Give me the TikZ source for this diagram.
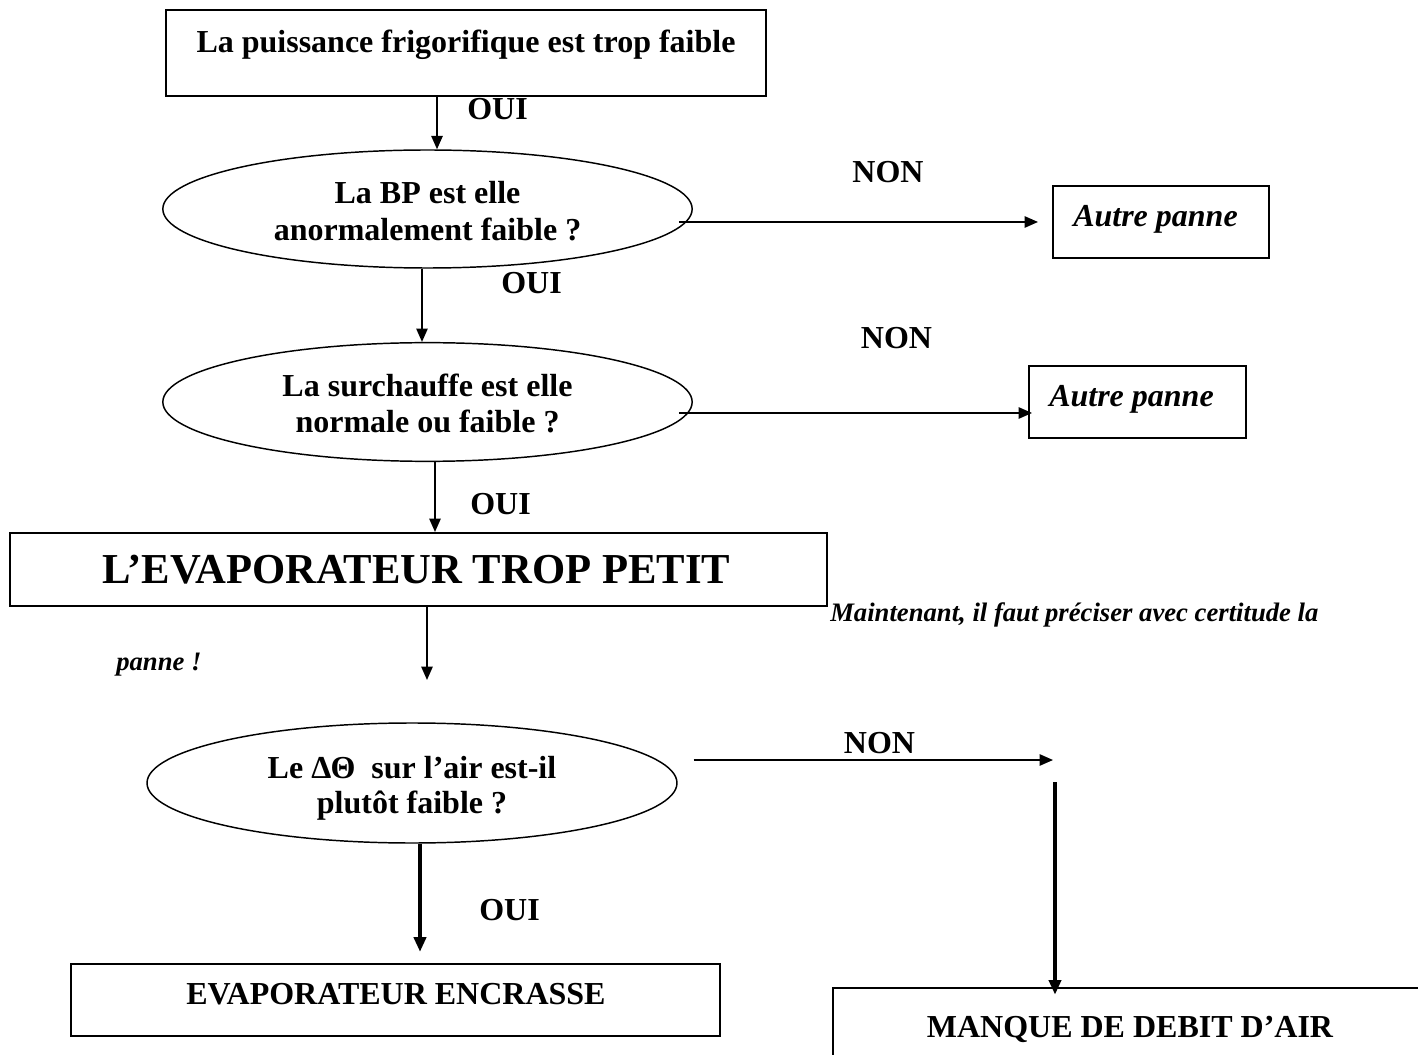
\documentclass[tikz,border=0pt]{standalone}
\usepackage{fontspec}
\setmainfont{Liberation Serif}
\usetikzlibrary{shapes.geometric,arrows.meta,calc}

\begin{document}
\begin{tikzpicture}[x=0.75pt,y=-0.75pt,
  box/.style={draw, line width=1.5pt, rectangle, inner sep=0pt},
  oval/.style={draw, line width=1.1pt, ellipse, inner sep=0pt},
  lbl/.style={font=\fontsize{24}{28}\selectfont\bfseries, inner sep=0pt},
  ital/.style={font=\fontsize{24}{28}\selectfont\bfseries\itshape, inner sep=0pt},
  note/.style={font=\fontsize{20}{24}\selectfont\bfseries\itshape, inner sep=0pt},
  title/.style={font=\fontsize{32}{36}\selectfont\bfseries, inner sep=0pt},
  link/.style={line width=1.2pt, -{Triangle[length=10pt,width=8.5pt]}},
  heavy/.style={line width=3.2pt, -{Triangle[length=11pt,width=9pt]}},
]
\fill[white] (0,0) rectangle (1418,1055);
\clip (0,0) rectangle (1418,1055);

% starting symptom
\node[box, minimum width=450pt, minimum height=64.5pt] (B0) at (466,53) {};
\node[lbl, anchor=base] (T0) at (466,53) {La puissance frigorifique est trop faible};

% first question
\node[oval, minimum width=397pt, minimum height=88.5pt] (E1) at (427.5,209) {};
\node[lbl, anchor=base] (E1a) at (427.5,204) {La BP est elle};
\node[lbl, anchor=base] (E1b) at (427.5,241) {anormalement faible ?};

\node[box, minimum width=162pt, minimum height=54pt] (AP1) at (1161,222) {};
\node[ital, anchor=base] (AP1t) at (1155.5,227) {Autre panne};

% second question
\node[oval, minimum width=397pt, minimum height=89pt] (E2) at (427.5,402) {};
\node[lbl, anchor=base] (E2a) at (427.5,397) {La surchauffe est elle};
\node[lbl, anchor=base] (E2b) at (427.5,433) {normale ou faible ?};

\node[box, minimum width=162.75pt, minimum height=54pt] (AP2) at (1137.5,402) {};
\node[ital, anchor=base] (AP2t) at (1131.5,407) {Autre panne};

% intermediate diagnosis
\node[box, minimum width=612.75pt, minimum height=54.75pt] (BIG) at (418.5,569.5) {};
\node[title, anchor=base] (BIGt) at (416.5,583) {L’EVAPORATEUR TROP PETIT};

\node[note, anchor=base west] (N1) at (830,621) {Maintenant, il faut préciser avec certitude la};
\node[note, anchor=base west] (N2) at (116,670) {panne !};

% third question
\node[oval, minimum width=397.5pt, minimum height=90pt] (E3) at (412,783) {};
\node[lbl, anchor=base] (E3a) at (412,778) {Le ΔΘ\ \ sur l’air est-il};
\node[lbl, anchor=base] (E3b) at (412,813) {plutôt faible ?};

% conclusions
\node[box, line width=1.7pt, minimum width=486.75pt, minimum height=54pt] (EN) at (395.5,1000) {};
\node[lbl, anchor=base] (ENt) at (396,1004) {EVAPORATEUR ENCRASSE};

\node[box, line width=1.9pt, minimum width=445.5pt, minimum height=63pt] (MQ) at (1130,1030) {};
\node[lbl, anchor=base] (MQt) at (1130,1037) {MANQUE DE DEBIT D’AIR};

% answer labels
\node[lbl, anchor=base west] (L1) at (467,120) {OUI};
\node[lbl, anchor=base] (L2) at (888,183) {NON};
\node[lbl, anchor=base west] (L3) at (501,294) {OUI};
\node[lbl, anchor=base] (L4) at (896.5,349) {NON};
\node[lbl, anchor=base west] (L5) at (470,515) {OUI};
\node[lbl, anchor=base] (L6) at (879.5,753) {NON};
\node[lbl, anchor=base west] (L7) at (479,920) {OUI};

% free ends
\coordinate (c4) at (427,680);
\coordinate (c5) at (1053,760);
\coordinate (c6) at (1055,782);

% connectors
\draw[link] ($(B0.south)+(-29,0)$) -- ($(E1.north)+(9.5,0)$);
\draw[link] ($(E1.east)+(-14,13)$) -- ($(AP1.west)+(-14,0)$);
\draw[link] ($(E1.south)+(-5.5,0)$) -- ($(E2.north)+(-5.5,0)$);
\draw[link] ($(E2.east)+(-14,11)$) -- ($(AP2.west)+(4,11)$);
\draw[link] ($(E2.south)+(7.5,0)$) -- ($(BIG.north)+(16.5,0)$);
\draw[link] ($(BIG.south)+(8.5,0)$) -- (c4);
\draw[link] ($(E3.east)+(16,-23)$) -- (c5);
\draw[heavy] (c6) -- ($(c6 |- MQ.north)+(0,8)$);
\draw[heavy] ($(E3.south)+(8,0)$) -- ($(EN.north)+(24.5,-11)$);
\end{tikzpicture}
\end{document}
